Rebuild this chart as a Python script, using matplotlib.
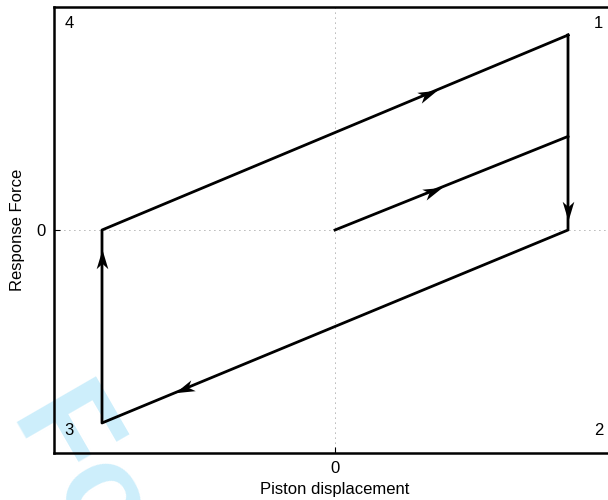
import numpy as np
import matplotlib.pyplot as plt
from matplotlib.markers import MarkerStyle
from matplotlib.path import Path
from matplotlib.transforms import Affine2D

plt.rcParams['font.family'] = ['Liberation Sans', 'DejaVu Sans']

# --- Hysteresis loop (normalised displacement / force)
x_init = [0.0, 1.0]
f_init = [0.0, 0.48]
x_loop = [1.0, 1.0, -1.0, -1.0, 1.0]
f_loop = [1.0, 0.0, -0.99, 0.0, 1.0]

# arrows: (segment start, segment end, fraction along the segment)
arr_seg = [((-1.0, 0.0), (1.0, 1.0), 0.70),
           ((0.0, 0.0), (1.0, 0.48), 0.42),
           ((1.0, 1.0), (1.0, 0.0), 0.90),
           ((1.0, 0.0), (-1.0, -0.99), 0.825),
           ((-1.0, -0.99), (-1.0, 0.0), 0.85)]

corner_lbl = ['1', '2', '3', '4']
corner_pos = [(0.968, 0.962), (0.970, 0.050), (0.027, 0.050), (0.028, 0.962)]

fig = plt.figure(figsize=(6.08, 5.0), dpi=100)
ax = fig.add_axes([54/608, 47/500, 562/608, 446/500])
ax.patch.set_facecolor('none')
ax.set_xlim(-1.206, 1.206)
ax.set_ylim(-1.144, 1.144)

ax.plot(x_init, f_init, 'k-', lw=2)
ax.plot(x_loop, f_loop, 'k-', lw=2)

# arrowheads (notched, matlab-like)
head = Path([(1, 0), (-1, 0.6), (-0.45, 0), (-1, -0.6), (1, 0)],
            [Path.MOVETO, Path.LINETO, Path.LINETO, Path.LINETO, Path.CLOSEPOLY])
fig.canvas.draw()
for (a, b, t) in arr_seg:
    xa = a[0] + t*(b[0]-a[0])
    fa = a[1] + t*(b[1]-a[1])
    p0 = ax.transData.transform(a)
    p1 = ax.transData.transform(b)
    ang = np.degrees(np.arctan2(p1[1]-p0[1], p1[0]-p0[0]))
    m = MarkerStyle(head, transform=Affine2D().rotate_deg(ang))
    ax.plot(xa, fa, marker=m, ms=14, color='k', mew=0, zorder=5)

for s, (px, py) in zip(corner_lbl, corner_pos):
    ax.text(px, py, s, transform=ax.transAxes, fontsize=12, ha='center', va='center')

ax.set_xticks([0])
ax.set_yticks([0])
ax.grid(True, color='k', ls=(0, (1, 5)), lw=0.6, alpha=0.6)
ax.tick_params(direction='in', length=4, width=0.8, labelsize=12, pad=6)
for sp in ax.spines.values():
    sp.set_linewidth(1.8)
ax.set_xlabel('Piston displacement', fontsize=12, labelpad=4)
ax.set_ylabel('Response Force', fontsize=12, labelpad=8)

# watermark
fig.text(0.127, 0.053, 'Fo', fontsize=95, color='#cdeefb', rotation=-60,
         ha='center', va='center', fontweight='bold', zorder=-1)

fig.savefig('out.png', dpi=100)
